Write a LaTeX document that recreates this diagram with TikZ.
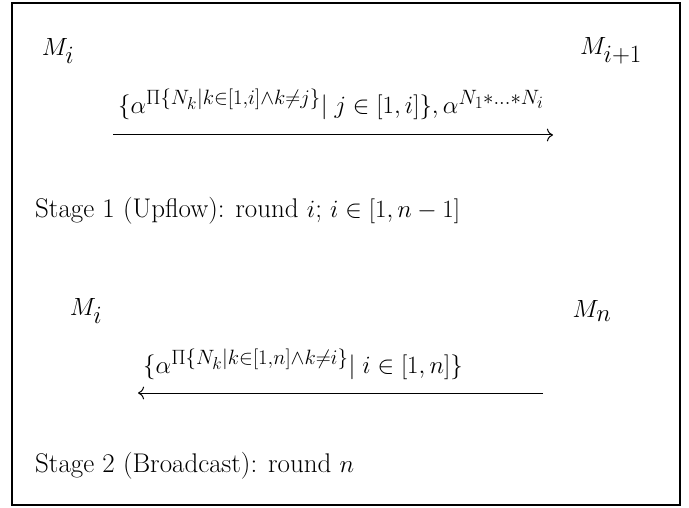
\documentclass[tikz,border=0pt]{standalone}
\usepackage{amsmath}
\usetikzlibrary{arrows.meta}
\DeclareMathSizes{33}{33}{23}{18}
\DeclareMathSizes{26}{26}{20}{17}
\DeclareMathSizes{27}{27}{20}{17}
\begin{document}
\begin{tikzpicture}[x=1pt,y=-1pt,
  party/.style={inner sep=0pt,font=\fontsize{33}{36}\selectfont},
  msg/.style={inner sep=0pt,font=\fontsize{26}{30}\selectfont},
  stagetext/.style={inner sep=0pt,anchor=west,font=\fontsize{27}{31}\selectfont},
  flow/.style={line width=1pt,-{Computer Modern Rightarrow[scale=1.6]}}]
\useasboundingbox (0,0) rectangle (689,508);
\draw[line width=2pt] (12,3) rectangle (680,505);
% Stage 1
\node[party] (m1) at (58,51) {$M_i$};
\node[party] (m2) at (611,51) {$M_{i+1}$};
\node[msg] (l1) at (331,104) {$\{\alpha^{\Pi\{N_k|k\in[1,i]\wedge k\neq j\}}|\; j\in[1,i]\},\alpha^{N_1*\ldots*N_i}$};
\coordinate (a1s) at (113,135);
\coordinate (a1e) at (553,135);
\draw[flow] (a1s) -- (a1e);
\node[stagetext] (s1) at (35,211) {Stage 1 (Upflow): round $i$; $i\in[1,n-1]$};
% Stage 2
\node[party] (m3) at (86,311) {$M_i$};
\node[party] (m4) at (592,311) {$M_n$};
\node[msg] (l2) at (303,364) {$\{\alpha^{\Pi\{N_k|k\in[1,n]\wedge k\neq i\}}|\; i\in[1,n]\}$};
\coordinate (a2s) at (543,393);
\coordinate (a2e) at (138,393);
\draw[flow] (a2s) -- (a2e);
\node[stagetext] (s2) at (35,466) {Stage 2 (Broadcast): round $n$};
\end{tikzpicture}
\end{document}
